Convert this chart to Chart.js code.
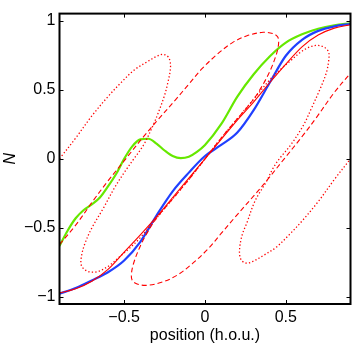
<!DOCTYPE html>
<html>
<head>
<meta charset="utf-8">
<title>N vs position</title>
<script src="https://cdn.jsdelivr.net/npm/chart.js@4.4.0/dist/chart.umd.min.js"></script>
<style>
  body { margin: 0; background: #fff; }
  canvas { display: block; }
</style>
</head>
<body>
<canvas id="chart" width="354" height="344"></canvas>
<script>
// tick marks
const xTicks = [-0.5, 0, 0.5]
const yTicks = [-1, -0.5, 0, 0.5, 1]

// red solid, blue solid share the same positions
const gridX = [-0.9, -0.8, -0.7, -0.6, -0.5, -0.4, -0.3, -0.2, -0.1, 0, 0.1, 0.2, 0.3, 0.4, 0.5, 0.6, 0.7, 0.8, 0.9]
const redN = [-0.97, -0.94, -0.885, -0.8, -0.675, -0.55, -0.42, -0.28, -0.14, 0, 0.14, 0.28, 0.41, 0.55, 0.685, 0.81, 0.895, 0.945, 0.97]
const blueN = [-0.975, -0.935, -0.88, -0.82, -0.735, -0.6, -0.41, -0.235, -0.1, 0.02, 0.1, 0.19, 0.35, 0.55, 0.745, 0.86, 0.925, 0.958, 0.975]

// green solid
const greenX = [-0.9, -0.85, -0.8, -0.75, -0.7, -0.65, -0.6, -0.55, -0.5, -0.45, -0.4, -0.35, -0.3, -0.25, -0.2, -0.15, -0.1, -0.05, 0, 0.1, 0.2, 0.3, 0.4, 0.5, 0.6, 0.7, 0.8, 0.9]
const greenN = [-0.63, -0.52, -0.43, -0.37, -0.33, -0.28, -0.2, -0.11, 0, 0.09, 0.14, 0.145, 0.11, 0.06, 0.02, 0.005, 0.015, 0.05, 0.1, 0.25, 0.45, 0.61, 0.74, 0.84, 0.9, 0.94, 0.965, 0.98]

// red dashed loop, traced in order
const dashX = [-0.9, -0.8, -0.69, -0.6, -0.49, -0.38, -0.3, -0.18, -0.1, -0.02, 0.08, 0.17, 0.26, 0.36, 0.42, 0.45, 0.455, 0.44, 0.4, 0.35, 0.3, 0.2, 0.1, 0,
  -0.1, -0.2, -0.3, -0.35, -0.4, -0.44, -0.455, -0.45, -0.42, -0.36, -0.26, -0.17, -0.08, 0.02, 0.1, 0.18, 0.3, 0.38, 0.49, 0.6, 0.69, 0.8, 0.9]
const dashN = [-0.62, -0.48, -0.3, -0.16, 0, 0.16, 0.27, 0.43, 0.54, 0.65, 0.76, 0.84, 0.89, 0.915, 0.905, 0.88, 0.83, 0.75, 0.63, 0.52, 0.43, 0.29, 0.15, 0,
  -0.15, -0.29, -0.43, -0.52, -0.63, -0.75, -0.83, -0.88, -0.905, -0.915, -0.89, -0.84, -0.76, -0.65, -0.54, -0.43, -0.27, -0.16, 0, 0.16, 0.3, 0.48, 0.62]

// red dotted loop, traced in order
const dotX = [-0.9, -0.8, -0.7, -0.6, -0.52, -0.44, -0.36, -0.3, -0.26, -0.23, -0.215, -0.215, -0.23, -0.25, -0.29, -0.32, -0.38, -0.44,
  -0.5, -0.56, -0.63, -0.7, -0.745, -0.765, -0.765, -0.74, -0.7, -0.65, -0.59, -0.53, -0.47, -0.4, -0.3, -0.2, -0.1, 0,
  0.1, 0.2, 0.3, 0.4, 0.47, 0.53, 0.59, 0.65, 0.7, 0.74, 0.765, 0.765, 0.75, 0.71, 0.66, 0.61, 0.53, 0.46,
  0.42, 0.38, 0.33, 0.3, 0.26, 0.23, 0.215, 0.215, 0.23, 0.26, 0.3, 0.36, 0.44, 0.52, 0.6, 0.7, 0.8, 0.9]
const dotN = [0, 0.15, 0.31, 0.45, 0.55, 0.64, 0.7, 0.74, 0.755, 0.74, 0.7, 0.64, 0.55, 0.46, 0.33, 0.245, 0.1, 0,
  -0.1, -0.21, -0.36, -0.5, -0.62, -0.71, -0.77, -0.805, -0.82, -0.81, -0.77, -0.71, -0.65, -0.57, -0.43, -0.29, -0.15, 0,
  0.15, 0.29, 0.43, 0.57, 0.65, 0.71, 0.77, 0.81, 0.82, 0.805, 0.77, 0.71, 0.62, 0.5, 0.37, 0.245, 0.1, 0,
  -0.07, -0.165, -0.26, -0.33, -0.46, -0.55, -0.64, -0.7, -0.74, -0.755, -0.74, -0.7, -0.64, -0.55, -0.45, -0.31, -0.15, 0]

const pts = (xs, ys) => xs.map((x, i) => ({ x, y: ys[i] }))
const font = { family: '"Liberation Sans", Arial, Helvetica, sans-serif', size: 16 }
const minus = v => String(v).replace('-', '\u2212')

// box round the axes, with ticks pointing inward on all four sides
const axesBox = {
    id: 'axesBox',
    afterDatasetsDraw(chart) {
        const { ctx, chartArea: a, scales } = chart
        const tl = 4
        ctx.save()
        ctx.strokeStyle = '#000'
        ctx.lineWidth = 1
        ctx.beginPath()
        xTicks.forEach(v => {
            const px = Math.round(scales.x.getPixelForValue(v)) + 0.5
            ctx.moveTo(px, a.bottom); ctx.lineTo(px, a.bottom - tl)
            ctx.moveTo(px, a.top); ctx.lineTo(px, a.top + tl)
        })
        yTicks.forEach(v => {
            const py = Math.round(scales.y.getPixelForValue(v)) + 0.5
            ctx.moveTo(a.left, py); ctx.lineTo(a.left + tl, py)
            ctx.moveTo(a.right, py); ctx.lineTo(a.right - tl, py)
        })
        ctx.stroke()
        ctx.lineWidth = 2
        ctx.strokeRect(a.left, a.top, a.right - a.left, a.bottom - a.top)
        ctx.restore()
    },
}

const smooth = { cubicInterpolationMode: 'monotone' }

new Chart('chart', {
    type: 'scatter',
    data: {
        datasets: [
            { data: pts(dotX, dotN), borderColor: '#ff0000', borderWidth: 1.3, borderDash: [1.3, 2.2] },
            { data: pts(dashX, dashN), borderColor: '#ff0000', borderWidth: 1.1, borderDash: [5, 3] },
            { data: pts(gridX, redN), borderColor: '#ff0000', borderWidth: 1.1, ...smooth },
            { data: pts(gridX, blueN), borderColor: '#2040ff', borderWidth: 2.2, ...smooth },
            { data: pts(greenX, greenN), borderColor: '#66e800', borderWidth: 2.2, ...smooth },
        ],
    },
    options: {
        responsive: false,
        animation: false,
        devicePixelRatio: 1,
        layout: { padding: { top: 13, right: 3.5, left: 0, bottom: 0 } },
        elements: {
            point: { radius: 0 },
            line: { tension: 0.35, fill: false },
        },
        datasets: { scatter: { showLine: true } },
        plugins: { legend: { display: false }, tooltip: { enabled: false } },
        scales: {
            x: {
                type: 'linear', min: -0.9, max: 0.9,
                afterBuildTicks: s => { s.ticks = xTicks.map(value => ({ value })) },
                afterFit: s => { s.height = 40 },
                grid: { display: false, drawTicks: false },
                border: { display: false },
                ticks: { font, color: '#000', padding: 4, maxRotation: 0, callback: minus },
                title: { display: true, text: 'position (h.o.u.)', font: { ...font, lineHeight: 1 }, color: '#000', padding: { top: 0, bottom: 0 } },
            },
            y: {
                type: 'linear', min: -1.05, max: 1.05,
                afterBuildTicks: s => { s.ticks = yTicks.map(value => ({ value })) },
                afterFit: s => { s.width = 59.5 },
                grid: { display: false, drawTicks: false },
                border: { display: false },
                ticks: { font, color: '#000', padding: 4, callback: minus },
                title: { display: true, text: 'N', font: { ...font, style: 'italic' }, color: '#000', padding: { top: 1, bottom: 0 } },
            },
        },
    },
    plugins: [axesBox],
})
</script>
</body>
</html>
